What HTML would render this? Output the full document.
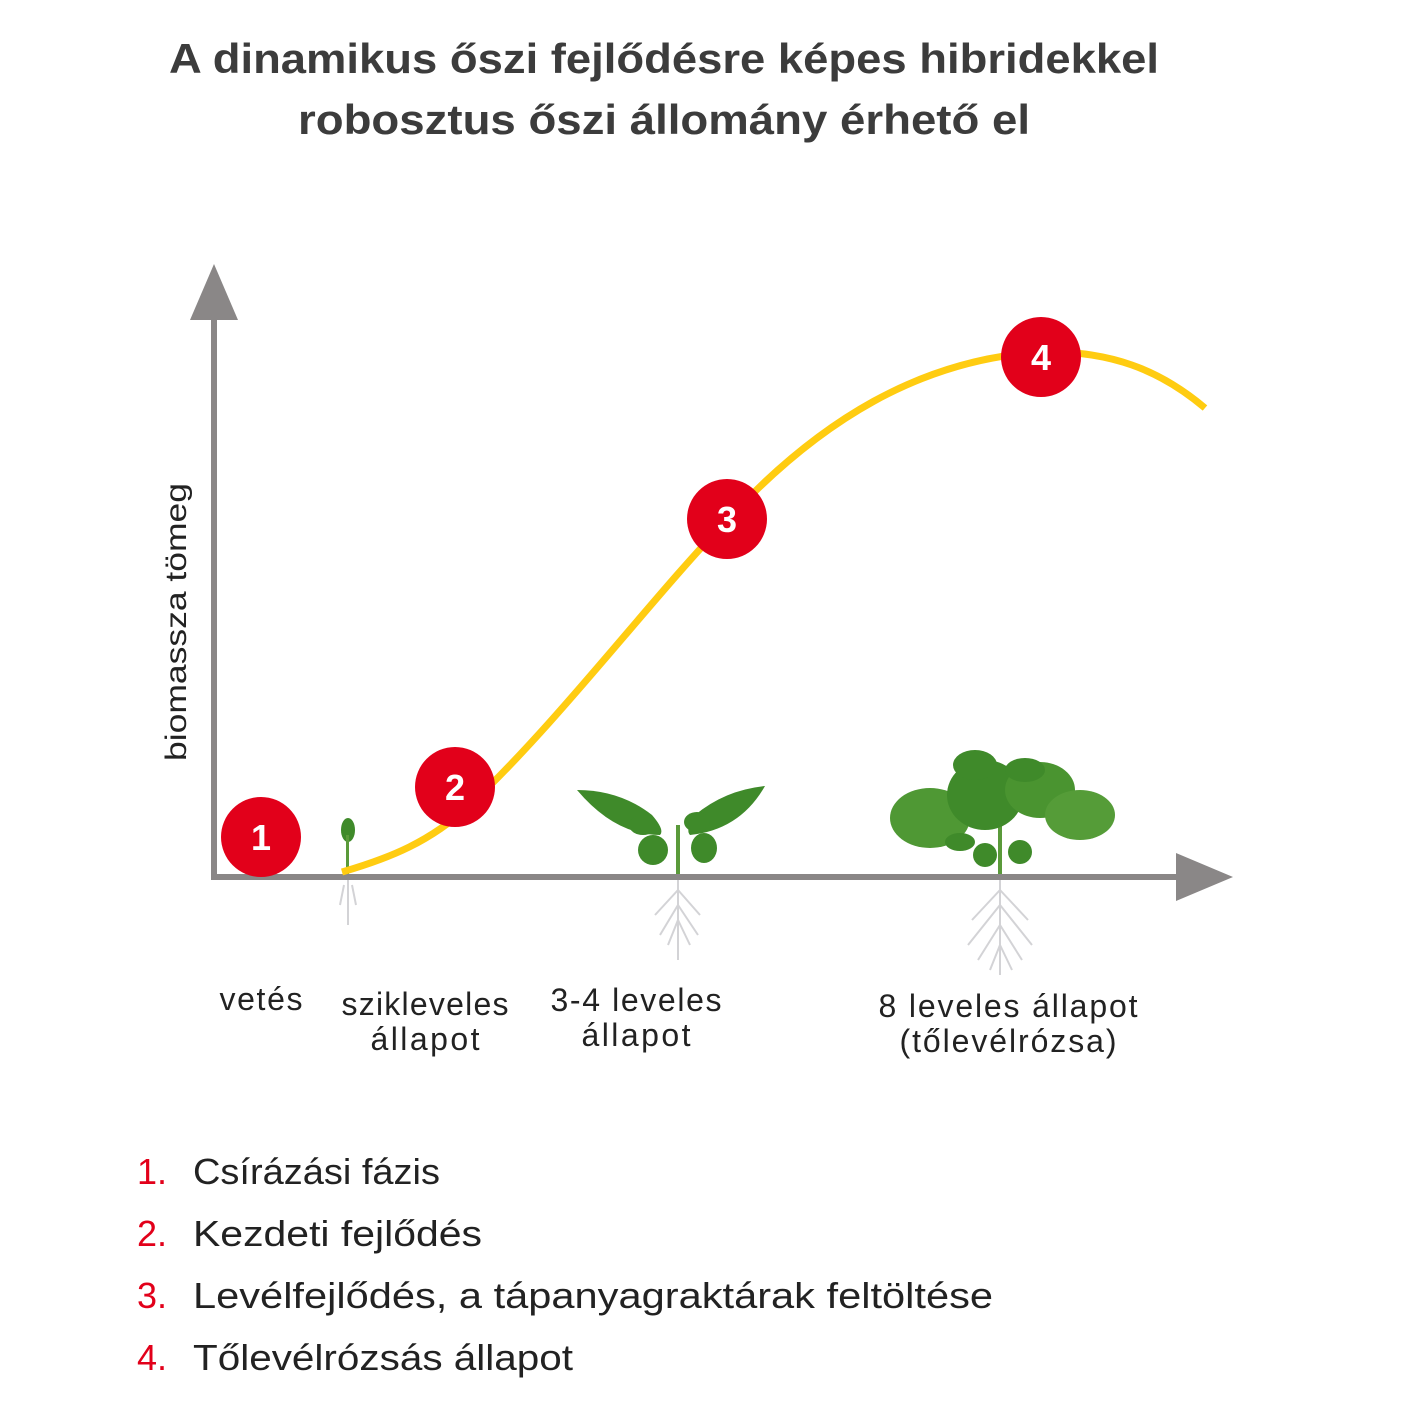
<!DOCTYPE html>
<html><head><meta charset="utf-8"><style>
html,body{margin:0;padding:0;background:#fff;}
svg{display:block;}
text{font-family:"Liberation Sans",sans-serif;}
</style></head><body>
<svg width="1404" height="1403" viewBox="0 0 1404 1403" xmlns="http://www.w3.org/2000/svg">
<text x="664" y="73" text-anchor="middle" font-size="42" font-weight="bold" fill="#3c3c3c" textLength="990" lengthAdjust="spacingAndGlyphs">A dinamikus őszi fejlődésre képes hibridekkel</text>
<text x="664" y="134" text-anchor="middle" font-size="42" font-weight="bold" fill="#3c3c3c" textLength="732" lengthAdjust="spacingAndGlyphs">robosztus őszi állomány érhető el</text>

<!-- plants -->
<g stroke="#c8c8cc" stroke-width="2" fill="none" opacity="0.8">
<path d="M348 875 L348 925 M344 885 L340 905 M352 885 L356 905"/>
<path d="M678 878 L678 960 M678 890 L655 915 M678 890 L700 915 M678 905 L660 935 M678 905 L698 935 M678 920 L668 945 M678 920 L690 945"/>
<path d="M1000 878 L1000 975 M1000 890 L972 920 M1000 890 L1028 920 M1000 905 L968 945 M1000 905 L1032 945 M1000 925 L978 960 M1000 925 L1022 960 M1000 945 L990 970 M1000 945 L1012 970"/>
</g>
<g fill="#3f8a2a">
<ellipse cx="348" cy="830" rx="7" ry="12"/>
<rect x="346" y="835" width="3" height="40" fill="#5a9a3a"/>
<rect x="676" y="825" width="4" height="52" fill="#5a9a3a"/>
<path d="M577 790 Q620 790 652 815 Q665 830 660 835 Q615 835 577 790Z"/>
<path d="M765 786 Q725 790 695 815 Q685 830 690 835 Q740 830 765 786Z"/>
<ellipse cx="653" cy="850" rx="15" ry="15"/>
<ellipse cx="704" cy="848" rx="13" ry="15"/>
<ellipse cx="643" cy="825" rx="14" ry="10"/>
<ellipse cx="697" cy="822" rx="13" ry="10"/>
<rect x="998" y="790" width="4" height="87" fill="#5a9a3a"/>
<ellipse cx="930" cy="818" rx="40" ry="30" fill="#4f9834"/>
<ellipse cx="985" cy="795" rx="38" ry="35"/>
<ellipse cx="1040" cy="790" rx="35" ry="28" fill="#4a9430"/>
<ellipse cx="1080" cy="815" rx="35" ry="25" fill="#559c38"/>
<ellipse cx="975" cy="765" rx="22" ry="15"/>
<ellipse cx="1025" cy="770" rx="20" ry="12"/>
<ellipse cx="985" cy="855" rx="12" ry="12"/>
<ellipse cx="1020" cy="852" rx="12" ry="12"/>
<ellipse cx="960" cy="842" rx="15" ry="9"/>
</g>

<!-- axes -->
<g fill="#8a8787">
<rect x="211" y="300" width="6" height="580"/>
<rect x="211" y="874" width="980" height="6"/>
<polygon points="214,264 190,320 238,320"/>
<polygon points="1233,877 1176,853 1176,901"/>
</g>

<path d="M342 872 C390 858 430 842 470 805 C560 720 650 600 728 519 C820 420 920 360 1040 352 C1110 350 1160 370 1205 408" fill="none" stroke="#ffcc11" stroke-width="7"/>

<g fill="#e2001a">
<circle cx="261" cy="837" r="40"/><circle cx="455" cy="787" r="40"/>
<circle cx="727" cy="519" r="40"/><circle cx="1041" cy="357" r="40"/>
</g>
<g fill="#fff" font-size="36" font-weight="bold" text-anchor="middle">
<text x="261" y="850">1</text><text x="455" y="800">2</text>
<text x="727" y="532">3</text><text x="1041" y="370">4</text>
</g>

<text transform="translate(186 622) rotate(-90)" text-anchor="middle" font-size="30" fill="#222" textLength="278" lengthAdjust="spacingAndGlyphs">biomassza tömeg</text>

<g font-size="32" fill="#222" text-anchor="middle" lengthAdjust="spacingAndGlyphs">
<text x="261" y="1010" textLength="83">vetés</text>
<text x="425" y="1015" textLength="167">szikleveles</text><text x="425" y="1050" textLength="109">állapot</text>
<text x="636" y="1011" textLength="171">3-4 leveles</text><text x="636" y="1046" textLength="109">állapot</text>
<text x="1008" y="1017" textLength="259">8 leveles állapot</text><text x="1008" y="1052" textLength="217">(tőlevélrózsa)</text>
</g>

<g font-size="36">
<text x="137" y="1184" fill="#e2001a">1.</text><text x="193" y="1184" fill="#222" textLength="247" lengthAdjust="spacingAndGlyphs">Csírázási fázis</text>
<text x="137" y="1246" fill="#e2001a">2.</text><text x="193" y="1246" fill="#222" textLength="289" lengthAdjust="spacingAndGlyphs">Kezdeti fejlődés</text>
<text x="137" y="1308" fill="#e2001a">3.</text><text x="193" y="1308" fill="#222" textLength="800" lengthAdjust="spacingAndGlyphs">Levélfejlődés, a tápanyagraktárak feltöltése</text>
<text x="137" y="1370" fill="#e2001a">4.</text><text x="193" y="1370" fill="#222" textLength="380" lengthAdjust="spacingAndGlyphs">Tőlevélrózsás állapot</text>
</g>
</svg>
</body></html>
